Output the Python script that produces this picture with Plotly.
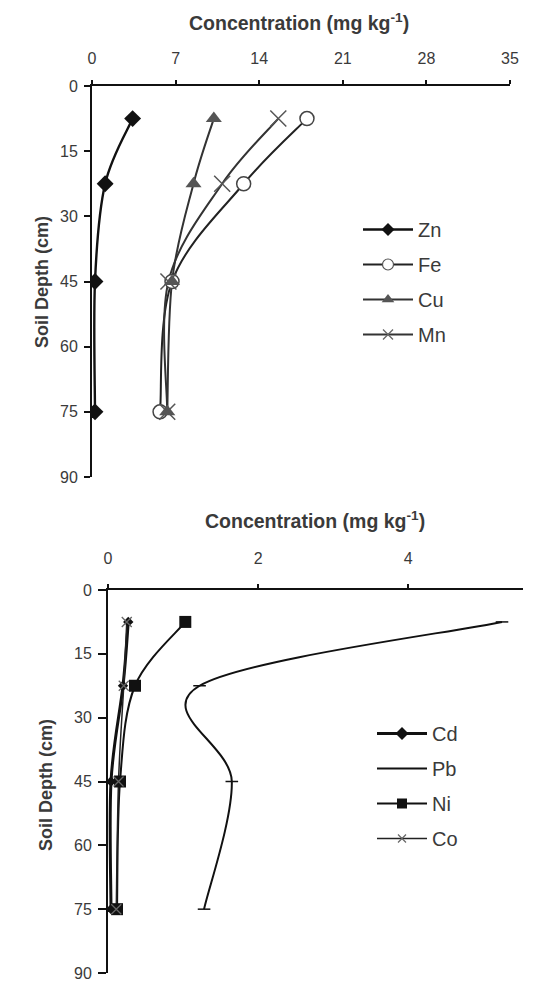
import plotly.graph_objects as go

# ---------------- data ----------------
depth = [7.5, 22.5, 45, 75]

zn = [3.4, 1.1, 0.25, 0.25]
fe = [18.0, 12.7, 6.7, 5.7]
cu = [10.2, 8.5, 6.7, 6.3]
mn = [15.6, 10.9, 6.4, 6.3]

cd = [0.27, 0.20, 0.04, 0.04]
pb = [5.25, 1.22, 1.65, 1.28]
ni = [1.03, 0.36, 0.16, 0.12]
co = [0.25, 0.21, 0.14, 0.11]

top_ticks = [0, 7, 14, 21, 28, 35]
bot_ticks = [0, 2, 4]
depth_ticks = [0, 15, 30, 45, 60, 75, 90]

x_title = "Concentration (mg kg<sup>-1</sup>)"
y_title = "Soil Depth (cm)"

FONT = "Liberation Sans, Arial, sans-serif"
TXT = "#3a3a3a"
OFF = 8                      # page body margin
W, H = 543 - OFF, 992 - OFF

fig = go.Figure()
shapes = []


def smooth_path(xs, ys):
    """Excel-style smoothed line: cubic Bezier segments through the data points."""
    pts = list(zip(xs, ys))
    n = len(pts)
    d = "M{},{}".format(*pts[0])
    for i in range(n - 1):
        p0 = pts[i - 1] if i > 0 else pts[i]
        p1, p2 = pts[i], pts[i + 1]
        p3 = pts[i + 2] if i + 2 < n else pts[i + 1]
        c1 = (p1[0] + (p2[0] - p0[0]) / 6, p1[1] + (p2[1] - p0[1]) / 6)
        c2 = (p2[0] - (p3[0] - p1[0]) / 6, p2[1] - (p3[1] - p1[1]) / 6)
        d += " C{},{} {},{} {},{}".format(c1[0], c1[1], c2[0], c2[1], p2[0], p2[1])
    return d


def add(x, name, axes, legend, marker, leg_marker, lc="#111111", lw=1.8):
    # smoothed connecting line, drawn on the panel's axes
    shapes.append(dict(type="path", path=smooth_path(x, depth), xref=axes[0], yref=axes[1],
                       line=dict(color=lc, width=lw), layer="below"))
    # data markers
    fig.add_trace(go.Scatter(x=x, y=depth, name=name, mode="markers", marker=marker,
                             xaxis=axes[0], yaxis=axes[1], showlegend=False,
                             legendgroup=name, legend=legend))
    # legend entry (line + marker)
    fig.add_trace(go.Scatter(x=[None], y=[None], name=name, mode="lines+markers",
                             line=dict(color=lc, width=lw), marker=leg_marker,
                             xaxis=axes[0], yaxis=axes[1], legendgroup=name, legend=legend))


# top panel
add(zn, "Zn", ("x", "y"), "legend",
    dict(symbol="diamond", size=13, color="#111111"),
    dict(symbol="diamond", size=10, color="#111111"), lw=2.4)
add(fe, "Fe", ("x", "y"), "legend",
    dict(symbol="circle", size=14, color="white", line=dict(width=1.5, color="#444444")),
    dict(symbol="circle", size=11, color="white", line=dict(width=1.2, color="#555555")),
    lc="#222222", lw=2)
add(cu, "Cu", ("x", "y"), "legend",
    dict(symbol="triangle-up", size=14, color="#555555"),
    dict(symbol="triangle-up", size=11, color="#555555"), lc="#333333", lw=2)
add(mn, "Mn", ("x", "y"), "legend",
    dict(symbol="x-thin-open", size=16, color="#555555", line=dict(width=1.5, color="#555555")),
    dict(symbol="x-thin-open", size=10, color="#666666", line=dict(width=1.3, color="#666666")),
    lc="#333333", lw=2)

# bottom panel
add(cd, "Cd", ("x2", "y2"), "legend2",
    dict(symbol="diamond", size=8, color="#111111"),
    dict(symbol="diamond", size=10, color="#111111"), lw=3)
add(pb, "Pb", ("x2", "y2"), "legend2",
    dict(symbol="line-ew-open", size=9, color="#111111", line=dict(width=1.5, color="#111111")),
    dict(symbol="line-ew-open", size=1, color="#111111", line=dict(width=1, color="#111111")),
    lw=2)
add(ni, "Ni", ("x2", "y2"), "legend2",
    dict(symbol="square", size=12, color="#111111"),
    dict(symbol="square", size=10, color="#111111"), lw=2)
add(co, "Co", ("x2", "y2"), "legend2",
    dict(symbol="x-thin-open", size=10, color="#666666", line=dict(width=1.3, color="#666666")),
    dict(symbol="x-thin-open", size=8, color="#666666", line=dict(width=1.2, color="#666666")),
    lc="#222222", lw=1.5)


def px_x(p):
    return (p - OFF) / W


def px_y(p):
    return 1 - (p - OFF) / H


axis_common = dict(showgrid=False, zeroline=False, showline=True, linecolor="#111111",
                   linewidth=2, ticks="outside", tickcolor="#111111", tickwidth=1.5,
                   tickfont=dict(family=FONT, size=16, color=TXT))

legend_common = dict(xanchor="left", yanchor="top", bgcolor="rgba(0,0,0,0)",
                     tracegroupgap=6, itemwidth=50,
                     font=dict(family=FONT, size=20, color=TXT))


def ann(text, x, y, size, angle=0):
    return dict(text="<b>" + text + "</b>", x=px_x(x), y=px_y(y), xref="paper", yref="paper",
                xanchor="center", yanchor="middle", showarrow=False, textangle=angle,
                font=dict(family=FONT, size=size, color=TXT))


fig.update_layout(
    width=W, height=H, margin=dict(l=0, r=0, t=0, b=0, autoexpand=False),
    paper_bgcolor="white", plot_bgcolor="white",
    font=dict(family=FONT, color=TXT),
    shapes=shapes,
    xaxis=dict(domain=[px_x(92), px_x(510)], range=[0, 35], side="top", anchor="y",
               tickvals=top_ticks, ticklen=4, ticklabelstandoff=10, **axis_common),
    yaxis=dict(domain=[px_y(477), px_y(86)], range=[90, 0], anchor="x",
               tickvals=depth_ticks, ticklen=6, ticklabelstandoff=3, **axis_common),
    xaxis2=dict(domain=[px_x(108), px_x(523)], range=[0, 5.53], side="top", anchor="y2",
                tickvals=bot_ticks, ticklen=4, ticklabelstandoff=14, **axis_common),
    yaxis2=dict(domain=[px_y(973), px_y(590)], range=[90, 0], anchor="x2",
                tickvals=depth_ticks, ticklen=8, ticklabelstandoff=3, **axis_common),
    legend=dict(x=px_x(358), y=px_y(210), **legend_common),
    legend2=dict(x=px_x(372), y=px_y(714), **legend_common),
    annotations=[
        ann(x_title, 299, 22, 19.5),
        ann(x_title, 315, 520, 19.5),
        ann(y_title, 42, 282, 18, -90),
        ann(y_title, 46, 785, 18, -90),
    ],
)

fig.write_html("out.html")
